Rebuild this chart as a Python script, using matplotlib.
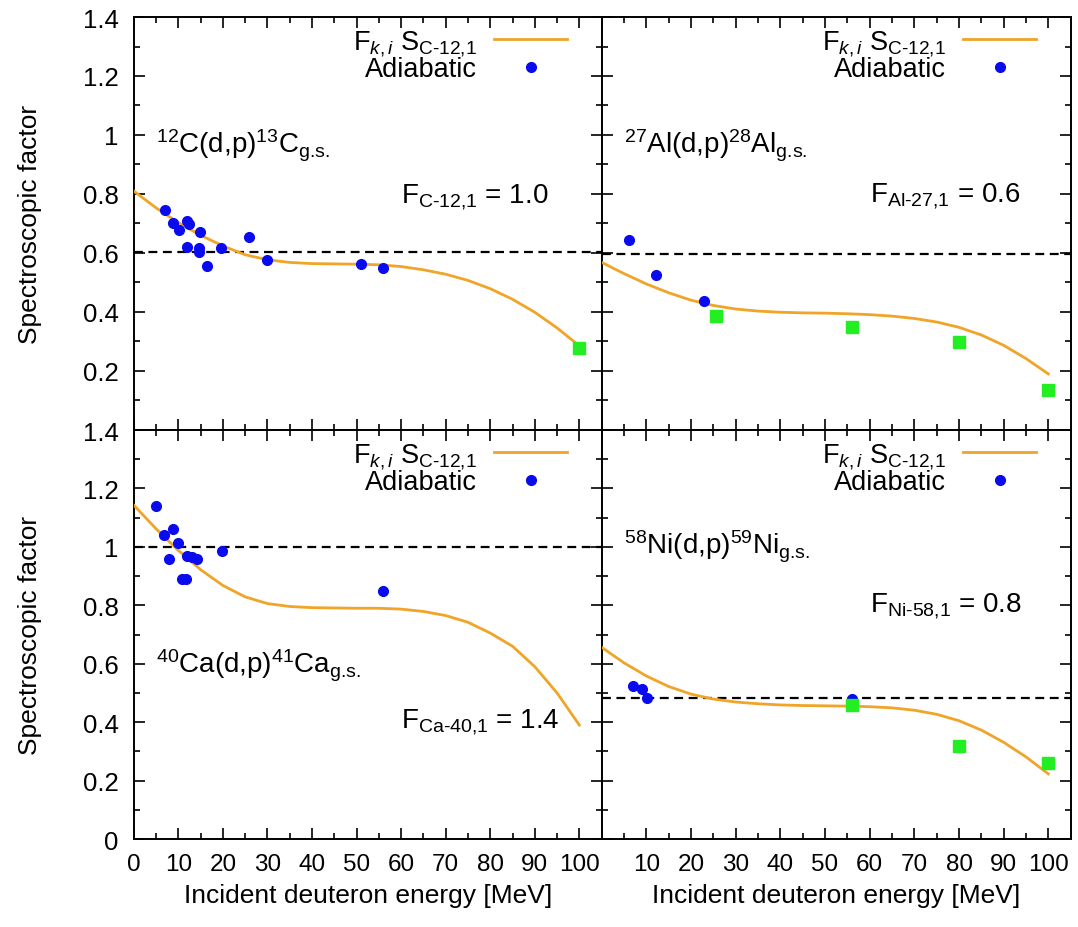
import numpy as np
import matplotlib
matplotlib.use("Agg")
import matplotlib.pyplot as plt

plt.rcParams['font.family'] = ['Liberation Sans', 'DejaVu Sans']
plt.rcParams['mathtext.fontset'] = 'custom'
plt.rcParams['mathtext.rm'] = 'Liberation Sans'
plt.rcParams['mathtext.it'] = 'Liberation Sans:italic'

# energies (MeV) at which the orange curves were read
curve_e = [0, 5, 10, 15, 20, 25, 30, 35, 40, 45, 50, 55, 60, 65, 70, 75, 80, 85, 90, 95, 100]

# 12C(d,p)13C
c12_curve = [0.81, 0.753, 0.703, 0.660, 0.624, 0.594, 0.577, 0.568, 0.564, 0.563, 0.562,
             0.560, 0.554, 0.543, 0.528, 0.507, 0.479, 0.443, 0.399, 0.346, 0.285]
c12_blue_e = [7.1, 8.7, 10.1, 11.9, 12.4, 14.9, 11.9, 14.6, 14.7, 16.5, 19.6, 25.9, 29.9, 50.9, 55.9]
c12_blue_s = [0.746, 0.702, 0.677, 0.710, 0.697, 0.670, 0.619, 0.616, 0.605, 0.555, 0.616, 0.655,
              0.576, 0.563, 0.549]
c12_green_e = [100]
c12_green_s = [0.277]
c12_ref = 0.605

# 27Al(d,p)28Al
al27_curve = [0.568, 0.530, 0.495, 0.465, 0.440, 0.422, 0.410, 0.403, 0.399, 0.397, 0.396,
              0.394, 0.391, 0.386, 0.378, 0.366, 0.348, 0.322, 0.287, 0.242, 0.190]
al27_blue_e = [6.1, 12.1, 23.0]
al27_blue_s = [0.645, 0.525, 0.437]
al27_green_e = [25.5, 56.0, 79.9, 100]
al27_green_s = [0.388, 0.348, 0.297, 0.137]
al27_ref = 0.597

# 40Ca(d,p)41Ca
ca40_curve = [1.143, 1.062, 0.988, 0.922, 0.868, 0.829, 0.806, 0.796, 0.792, 0.791, 0.790,
              0.790, 0.787, 0.779, 0.765, 0.742, 0.705, 0.660, 0.590, 0.500, 0.390]
ca40_blue_e = [4.9, 6.85, 8.9, 7.9, 9.85, 11.9, 13.0, 14.3, 10.75, 11.7, 19.9, 56.0]
ca40_blue_s = [1.141, 1.042, 1.061, 0.959, 1.012, 0.968, 0.965, 0.959, 0.890, 0.890, 0.986, 0.849]
ca40_green_e = []
ca40_green_s = []
ca40_ref = 1.0

# 58Ni(d,p)59Ni
ni58_curve = [0.656, 0.603, 0.558, 0.522, 0.496, 0.479, 0.469, 0.463, 0.459, 0.457, 0.456,
              0.455, 0.453, 0.449, 0.441, 0.427, 0.405, 0.373, 0.331, 0.281, 0.223]
ni58_blue_e = [6.95, 8.97, 10.1, 56.0]
ni58_blue_s = [0.525, 0.514, 0.482, 0.478]
ni58_green_e = [56.0, 79.9, 100]
ni58_green_s = [0.460, 0.319, 0.260]
ni58_ref = 0.484

panels = [
    (c12_curve, c12_blue_e, c12_blue_s, c12_green_e, c12_green_s, c12_ref,
     r"$^{12}$C(d,p)$^{13}$C$_{\text{g.s.}}$", 0.941, r"F$_{\text{C-12,1}}$ = 1.0", 0.772),
    (al27_curve, al27_blue_e, al27_blue_s, al27_green_e, al27_green_s, al27_ref,
     r"$^{27}$Al(d,p)$^{28}$Al$_{\text{g.s.}}$", 0.941, r"F$_{\text{Al-27,1}}$ = 0.6", 0.776),
    (ca40_curve, ca40_blue_e, ca40_blue_s, ca40_green_e, ca40_green_s, ca40_ref,
     r"$^{40}$Ca(d,p)$^{41}$Ca$_{\text{g.s.}}$", 0.571, r"F$_{\text{Ca-40,1}}$ = 1.4", 0.382),
    (ni58_curve, ni58_blue_e, ni58_blue_s, ni58_green_e, ni58_green_s, ni58_ref,
     r"$^{58}$Ni(d,p)$^{59}$Ni$_{\text{g.s.}}$", 0.976, r"F$_{\text{Ni-58,1}}$ = 0.8", 0.782),
]

fig = plt.figure(figsize=(10.78, 9.28), dpi=100)
boxes = [[0.1241, 0.5356, 0.434, 0.445], [0.5582, 0.5356, 0.435, 0.445],
         [0.1241, 0.0948, 0.434, 0.4407], [0.5582, 0.0948, 0.435, 0.4407]]

orange = '#f0a428'
yt = [0, 0.2, 0.4, 0.6, 0.8, 1.0, 1.2, 1.4]
ytl = ['0', '0.2', '0.4', '0.6', '0.8', '1', '1.2', '1.4']
xt = list(range(0, 101, 10))

for i, (curve, be, bs, ge, gs, ref, reac, ry, flab, fy) in enumerate(panels):
    ax = fig.add_axes(boxes[i])
    ax.plot(curve_e, curve, '-', color=orange, lw=2, label=r"F$_{k,i}$ S$_{\text{C-12,1}}$", zorder=3)
    ax.plot(be, bs, 'o', color='#0a0aee', ms=7, ls='none', label='Adiabatic', zorder=4)
    ax.plot(ge, gs, 's', color='#22ee22', ms=8.5, ls='none', zorder=4)
    ax.axhline(ref, color='black', lw=1.6, ls=(0, (4, 2.5)), zorder=2)
    ax.set_xlim(0, 105)
    ax.set_ylim(0, 1.4)
    ax.set_xticks(xt)
    ax.set_xticks(np.arange(5, 105, 10), minor=True)
    ax.set_yticks(yt)
    ax.set_yticks(np.arange(0.1, 1.4, 0.2), minor=True)
    ax.tick_params(which='both', direction='in', top=True, right=True, width=1.2)
    ax.tick_params(which='major', length=8)
    ax.tick_params(which='minor', length=4)
    ax.tick_params(axis='y', labelsize=18.5, pad=11)
    ax.tick_params(axis='x', labelsize=17.5, pad=10)
    for s in ax.spines.values():
        s.set_linewidth(1.4)

    if i % 2 == 0:
        if i == 0:
            ax.set_yticklabels([''] + ytl[1:])
        else:
            ax.set_yticklabels(ytl)
        ax.set_ylabel('Spectroscopic factor', fontsize=19, labelpad=29)
    else:
        ax.set_yticklabels([])
    if i >= 2:
        if i == 2:
            ax.set_xticklabels([str(v) for v in xt])
        else:
            ax.set_xticklabels([''] + [str(v) for v in xt[1:]])
        ax.set_xlabel('Incident deuteron energy [MeV]', fontsize=19, labelpad=6)
    else:
        ax.set_xticklabels([])

    ax.text(5.0, ry, reac, fontsize=20, va='baseline', ha='left')
    ax.text(60.0, fy, flab, fontsize=20, va='baseline', ha='left')
    ax.legend(loc='upper right', bbox_to_anchor=(0.927, 0.973), frameon=False, markerfirst=False,
              fontsize=19.5, handlelength=2.7, handletextpad=0.63, labelspacing=-0.05,
              borderpad=0.0, borderaxespad=0.0)

fig.savefig('out.png', dpi=100)
